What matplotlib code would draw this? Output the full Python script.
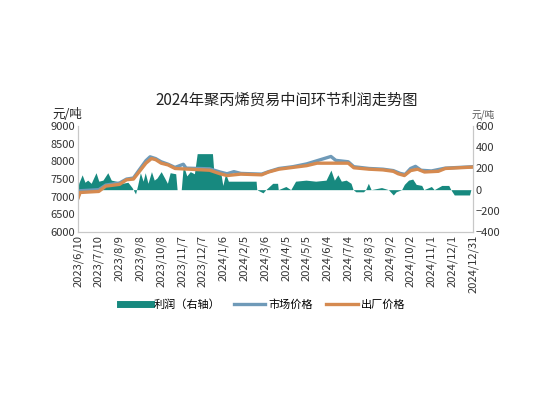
import pandas as pd
import matplotlib
matplotlib.use("Agg")
import matplotlib.pyplot as plt
from matplotlib.lines import Line2D

plt.rcParams['font.family'] = ['Noto Sans CJK SC', 'DejaVu Sans']

# profit (right axis), yuan/ton
profit_dates = ["2023-06-10","2023-06-11","2023-06-16","2023-06-20","2023-06-24","2023-06-29","2023-07-06",
    "2023-07-10","2023-07-16","2023-07-23","2023-07-28","2023-08-04","2023-08-13","2023-08-21","2023-08-27",
    "2023-09-01","2023-09-04","2023-09-08","2023-09-12","2023-09-15","2023-09-19","2023-09-24","2023-09-28",
    "2023-10-02","2023-10-08","2023-10-13","2023-10-17","2023-10-21","2023-10-29","2023-10-31","2023-11-06",
    "2023-11-09","2023-11-14","2023-11-19","2023-11-25","2023-11-29","2023-12-21","2023-12-23","2024-01-02",
    "2024-01-05","2024-01-09","2024-01-13","2024-02-22","2024-02-23","2024-03-03","2024-03-07","2024-03-17",
    "2024-03-24","2024-03-25","2024-04-05","2024-04-12","2024-04-19","2024-05-04","2024-05-18","2024-06-02",
    "2024-06-09","2024-06-14","2024-06-19","2024-06-24","2024-07-01","2024-07-08","2024-07-11","2024-07-15",
    "2024-07-26","2024-07-29","2024-08-02","2024-08-06","2024-08-21","2024-08-31","2024-09-07","2024-09-11",
    "2024-09-19","2024-09-23","2024-09-29","2024-10-05","2024-10-10","2024-10-18","2024-10-21","2024-11-01",
    "2024-11-05","2024-11-16","2024-11-26","2024-11-29","2024-12-04","2024-12-26","2024-12-28"]
profit = [0,60,140,70,90,60,160,
    80,90,160,90,80,60,70,20,
    -40,40,160,80,160,60,170,90,
    110,170,110,60,160,150,0,0,
    230,130,170,150,340,340,170,160,
    40,150,80,80,0,-30,0,60,
    60,0,30,0,80,90,80,90,
    185,90,140,80,90,60,0,-20,
    -20,0,60,0,20,0,-50,-20,
    0,50,90,100,50,40,0,30,
    0,40,40,0,-50,-50,0]

# market price
market_dates = ["2023-06-10","2023-06-13","2023-07-10","2023-07-20","2023-08-09","2023-08-19","2023-08-29",
    "2023-09-06","2023-09-16","2023-09-22","2023-09-30","2023-10-08","2023-10-18","2023-10-28","2023-11-09",
    "2023-11-13","2023-12-17","2024-01-01","2024-01-11","2024-01-21","2024-01-31","2024-03-01","2024-03-11",
    "2024-03-26","2024-04-15","2024-05-05","2024-05-20","2024-06-09","2024-06-16","2024-07-04","2024-07-12",
    "2024-08-03","2024-08-23","2024-09-07","2024-09-17","2024-09-24","2024-10-02","2024-10-09","2024-10-17",
    "2024-11-01","2024-11-21","2024-12-31"]
market = [6980,7170,7200,7330,7390,7500,7530,
    7750,8020,8130,8080,7990,7920,7830,7920,
    7810,7790,7700,7650,7710,7660,7640,7710,
    7800,7850,7930,8020,8140,8030,7990,7850,
    7800,7780,7740,7660,7630,7800,7860,7750,
    7730,7810,7850]

# ex-factory price
factory_dates = ["2023-06-10","2023-06-13","2023-07-10","2023-07-20","2023-08-09","2023-08-19","2023-08-29",
    "2023-09-06","2023-09-16","2023-09-24","2023-09-30","2023-10-08","2023-10-18","2023-10-28","2023-11-17",
    "2023-12-17","2024-01-01","2024-01-11","2024-01-31","2024-03-01","2024-03-11","2024-03-26","2024-04-15",
    "2024-05-05","2024-05-20","2024-07-04","2024-07-12","2024-08-03","2024-08-23","2024-09-07","2024-09-14",
    "2024-09-23","2024-10-02","2024-10-12","2024-10-22","2024-11-11","2024-11-21","2024-12-31"]
factory = [6960,7120,7150,7300,7350,7480,7500,
    7700,7950,8080,8050,7950,7900,7800,7780,
    7750,7650,7600,7640,7620,7700,7780,7830,
    7880,7950,7950,7820,7780,7760,7720,7650,
    7600,7740,7780,7700,7720,7800,7840]

teal = "#17897f"
blue = "#6f9ab8"
orange = "#d58a50"

fig = plt.figure(figsize=(5.47, 3.94), dpi=100)
ax = fig.add_axes([0.1426, 0.411, 0.7221, 0.269])
ax2 = ax.twinx()

ax2.fill_between(pd.to_datetime(profit_dates), profit, 0, color=teal, lw=0)
ax.plot(pd.to_datetime(market_dates), market, color=blue, lw=2.4)
ax.plot(pd.to_datetime(factory_dates), factory, color=orange, lw=2.4)
ax.set_zorder(ax2.get_zorder() + 1)
ax.patch.set_visible(False)

start, end = pd.Timestamp("2023-06-10"), pd.Timestamp("2024-12-31")
ax.set_xlim(start, end)
ax.set_ylim(6000, 9000)
ax2.set_ylim(-400, 600)
ax.set_yticks(range(6000, 9001, 500))
ax2.set_yticks(range(-400, 601, 200))
ticks = pd.date_range(start, periods=20, freq="30D")
ax.set_xticks(ticks)
ax.set_xticklabels([f"{d.year}/{d.month}/{d.day}" for d in ticks], rotation=90, fontsize=8, color="#333333")
for a in (ax, ax2):
    a.tick_params(length=0, labelsize=8, colors="#333333", pad=2)
    for s in a.spines.values():
        s.set_color("#c8c8c8")
    a.spines['top'].set_visible(False)
ax.tick_params(axis='x', labelsize=8)

fig.text(0.525, 0.745, "2024年聚丙烯贸易中间环节利润走势图", ha="center", va="center", fontsize=11, color="#222222")
fig.text(0.095, 0.71, "元/吨", ha="left", va="center", fontsize=9, color="#222222")
fig.text(0.862, 0.71, "元/吨", ha="left", va="center", fontsize=7, color="#555555")

handles = [Line2D([], [], color=teal, lw=5), Line2D([], [], color=blue, lw=2.4), Line2D([], [], color=orange, lw=2.4)]
fig.legend(handles, ["利润（右轴）", "市场价格", "出厂价格"], loc="center", bbox_to_anchor=(0.48, 0.228),
           ncol=3, frameon=False, fontsize=8, handlelength=2.8, columnspacing=1.2, handletextpad=0.3)

fig.savefig("out.png", dpi=100)
